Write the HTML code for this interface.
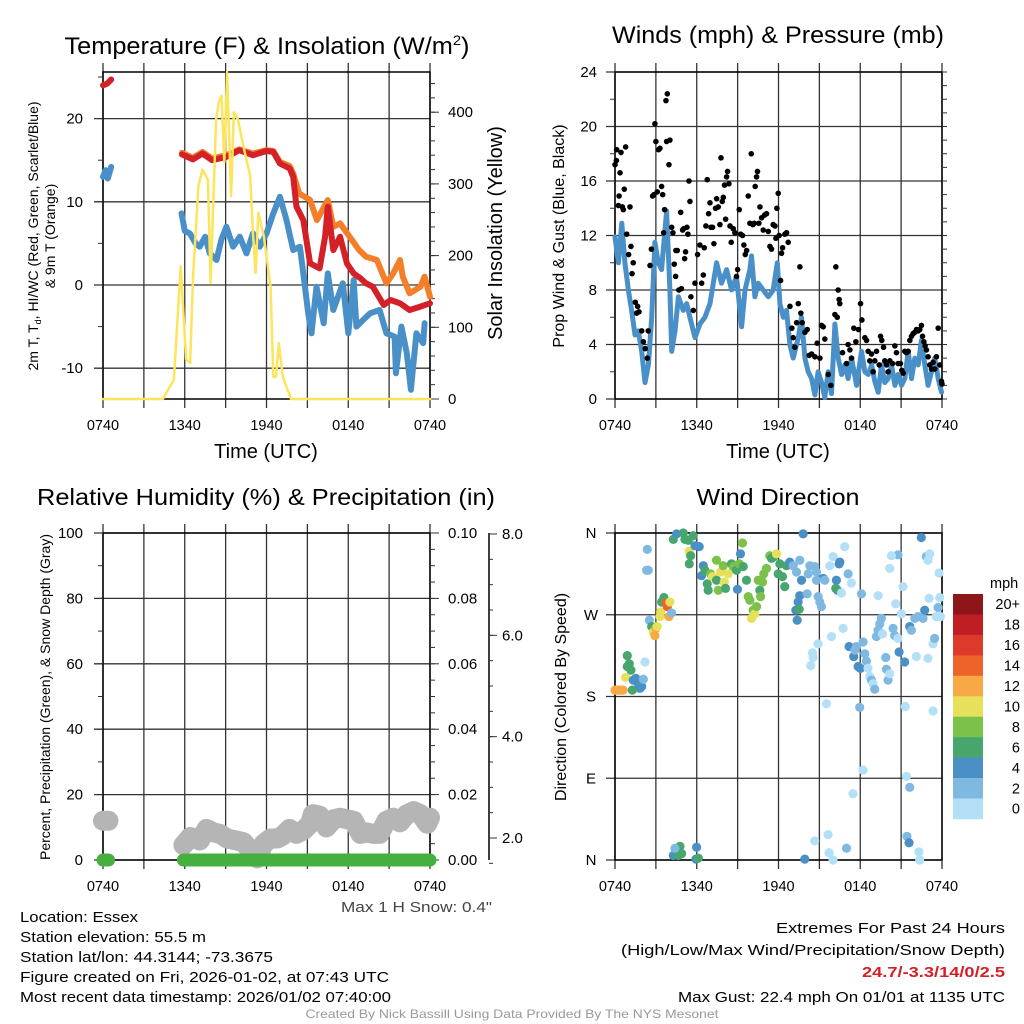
<!DOCTYPE html>
<html><head><meta charset="utf-8"><style>
html,body{margin:0;padding:0;background:#fff;}
svg{display:block;font-family:"Liberation Sans",sans-serif;}
</style></head><body>
<svg id="fig" width="1024" height="1024" viewBox="0 0 1024 1024" xmlns="http://www.w3.org/2000/svg">
<rect width="1024" height="1024" fill="#fff"/>
<g id="layer"></g>
<text x="267" y="54" font-size="24" text-anchor="middle" textLength="405" lengthAdjust="spacingAndGlyphs">Temperature (F) &amp; Insolation (W/m<tspan dy="-9" font-size="14">2</tspan><tspan dy="9">)</tspan></text>
<text x="778" y="43" font-size="24" text-anchor="middle" textLength="332" lengthAdjust="spacingAndGlyphs">Winds (mph) &amp; Pressure (mb)</text>
<text x="266" y="505" font-size="23" text-anchor="middle" textLength="458" lengthAdjust="spacingAndGlyphs">Relative Humidity (%) &amp; Precipitation (in)</text>
<text x="778" y="505" font-size="23" text-anchor="middle" textLength="163" lengthAdjust="spacingAndGlyphs">Wind Direction</text>
<text x="266" y="458" font-size="20" text-anchor="middle">Time (UTC)</text>
<text x="778" y="458" font-size="20" text-anchor="middle">Time (UTC)</text>
<text transform="translate(38,236) rotate(-90)" font-size="14" text-anchor="middle">2m T, T<tspan font-size="9" dy="3">d</tspan><tspan dy="-3">, HI/WC (Red, Green, Scarlet/Blue)</tspan></text>
<text transform="translate(55,236) rotate(-90)" font-size="14" text-anchor="middle">&amp; 9m T (Orange)</text>
<text transform="translate(502,233) rotate(-90)" font-size="20" text-anchor="middle">Solar Insolation (Yellow)</text>
<text transform="translate(564,236) rotate(-90)" font-size="16" text-anchor="middle">Prop Wind &amp; Gust (Blue, Black)</text>
<text transform="translate(50,697) rotate(-90)" font-size="14" text-anchor="middle">Percent, Precipitation (Green), &amp; Snow Depth (Gray)</text>
<text transform="translate(566,697) rotate(-90)" font-size="16" text-anchor="middle">Direction (Colored By Speed)</text>
<text x="492" y="912" font-size="15" fill="#444" text-anchor="end" textLength="151" lengthAdjust="spacingAndGlyphs">Max 1 H Snow: 0.4"</text>
<g font-size="15">
<text x="20" y="922" textLength="118" lengthAdjust="spacingAndGlyphs">Location: Essex</text>
<text x="20" y="942" textLength="186" lengthAdjust="spacingAndGlyphs">Station elevation: 55.5 m</text>
<text x="20" y="962" textLength="253" lengthAdjust="spacingAndGlyphs">Station lat/lon: 44.3144; -73.3675</text>
<text x="20" y="982" textLength="369" lengthAdjust="spacingAndGlyphs">Figure created on Fri, 2026-01-02, at 07:43 UTC</text>
<text x="20" y="1002" textLength="371" lengthAdjust="spacingAndGlyphs">Most recent data timestamp: 2026/01/02 07:40:00</text>
</g>
<g font-size="15" text-anchor="end">
<text x="1005" y="933" textLength="229" lengthAdjust="spacingAndGlyphs">Extremes For Past 24 Hours</text>
<text x="1005" y="955" textLength="384" lengthAdjust="spacingAndGlyphs">(High/Low/Max Wind/Precipitation/Snow Depth)</text>
<text x="1005" y="977" fill="#d42027" font-weight="bold" textLength="143" lengthAdjust="spacingAndGlyphs">24.7/-3.3/14/0/2.5</text>
<text x="1005" y="1002" textLength="327" lengthAdjust="spacingAndGlyphs">Max Gust: 22.4 mph On 01/01 at 1135 UTC</text>
</g>
<text x="512" y="1018" font-size="12" fill="#999" text-anchor="middle" textLength="413" lengthAdjust="spacingAndGlyphs">Created By Nick Bassill Using Data Provided By The NYS Mesonet</text>
</svg>
<script>
// ---------- data ----------
const timeTickHours = [0, 6, 12, 18, 24];
const timeTickLabels = ['0740', '1340', '1940', '0140', '0740'];
const tempTicks = [-10, 0, 10, 20];
const solarTicks = [0, 100, 200, 300, 400];
const windTicks = [0, 4, 8, 12, 16, 20, 24];
const pctTicks = [0, 20, 40, 60, 80, 100];
const precipTicks = [0, 0.02, 0.04, 0.06, 0.08, 0.10];
const snowTicks = [2, 4, 6, 8];
const dirTicks = [0, 90, 180, 270, 360];
const dirTickLabels = ['N', 'E', 'S', 'W', 'N'];
const speedBins = ['20+', '18', '16', '14', '12', '10', '8', '6', '4', '2', '0'];
const speedColors = ['#8e1519', '#bf1e24', '#de3a2a', '#ee6329', '#f6a945', '#e6e05a', '#7cc24a', '#47a56e', '#4a8fc6', '#7fb9e2', '#b3e0f7'];

const redT = [0,24.0, 0.3,24.2, 0.6,24.7, null,null, 5.8,15.7, 6.6,15.1, 7.3,15.8, 8.0,15.0, 9.06,15.4, 10.0,16.2, 11.0,15.6, 12.0,16.1, 12.5,16.0, 12.98,14.6, 13.7,14.0, 13.96,13.0, 14.2,9.4, 14.7,7.8, 15.2,2.6, 15.9,2.0, 16.3,5.8, 16.5,9.4, 16.9,4.2, 17.4,5.8, 17.9,2.6, 18.4,1.4, 18.9,0.8, 19.3,0.2, 19.8,-0.2, 20.6,-2.4, 21.1,-1.8, 21.8,-2.2, 22.5,-3.0, 23.3,-2.6, 24,-2.2];
const orangeT = [5.8,15.9, 6.6,15.3, 7.3,16, 8,15.2, 9.06,15.6, 10,16.3, 11,15.8, 12,16.2, 12.5,16.1, 12.98,14.8, 13.7,14.3, 13.96,13.4, 14.4,11, 15.2,10.2, 15.7,7.8, 16.5,10.2, 16.9,7, 17.4,7.4, 18.1,5.8, 18.8,4.2, 19.3,3.4, 20.1,3, 20.8,0.2, 21.3,1.4, 21.8,3, 22.0,1, 22.5,-1, 23.3,-0.2, 23.6,1, 24,-1.4];
const blueTd = [0,13, 0.2,13.8, 0.35,12.8, 0.6,14.2, null,null, 5.76,8.6, 6.0,6.5, 6.37,6.2, 6.8,5.0, 7.1,4.6, 7.5,5.8, 7.84,3.8, 8.33,3, 8.7,5.5, 9.06,7, 9.55,4.6, 10.04,5.8, 10.53,3.8, 11.0,6.2, 11.5,4.6, 12.0,6.2, 12.5,8.6, 12.98,10.6, 13.47,7.8, 13.96,4.2, 14.45,4.6, 14.7,1.4, 15.06,-3.4, 15.3,-5.8, 15.67,-0.2, 16.2,-4.6, 16.5,1.4, 16.9,-3, 17.6,0.2, 18.0,-5.8, 18.4,0.6, 18.6,-5, 19.1,-4.2, 19.6,-3.4, 20.3,-3, 20.8,-5.8, 21.4,-6.2, 21.5,-10.6, 21.9,-5, 22.3,-8.2, 22.6,-12.6, 23.0,-5.8, 23.5,-7, 23.6,-4.6];
const solar = [0,0, 4.4,0, 5.2,27, 5.7,185, 6.1,55, 6.4,50, 6.6,167, 7.0,297, 7.3,320, 7.7,306, 7.9,162, 8.3,390, 8.5,414, 8.7,423, 8.9,330, 9.1,456, 9.4,283, 9.6,400, 9.9,390, 10.3,353, 10.8,311, 11.0,232, 11.2,176, 11.4,260, 11.8,227, 12.3,157, 12.5,31, 12.7,31, 12.9,78, 13.2,31, 13.8,0, 24,0];
const windT = [0,11.9, 0.25,10, 0.5,12.9, 0.73,10, 0.98,8, 1.22,6.5, 1.47,4.7, 1.71,5, 1.96,3.5, 2.2,1.2, 2.45,2.5, 2.69,6, 2.93,11.5, 3.18,10, 3.42,9.5, 3.79,13.8, 4.03,8, 4.16,3.5, 4.4,5, 4.65,7.5, 5.01,6.5, 5.26,7, 5.5,6, 5.87,4.5, 6.23,5.5, 6.6,6, 6.97,7, 7.46,10, 7.82,8.5, 8.19,9.5, 8.56,8, 8.92,9, 9.29,5.3, 9.54,8, 9.9,9.5, 10.02,10.5, 10.27,7.5, 10.51,8.5, 10.88,8, 11.25,7.5, 11.61,8, 11.91,10, 12.1,7, 12.35,6, 12.59,6.5, 12.84,4, 13.08,3, 13.45,4.5, 13.69,6, 13.94,3, 14.18,2, 14.43,1.5, 14.67,0.3, 14.91,2, 15.16,1.2, 15.4,0.1, 15.65,2, 15.89,0.4, 16.14,5.5, 16.38,3, 16.63,1.8, 16.87,2.5, 17.11,1.5, 17.36,3, 17.73,1, 18.09,3.5, 18.34,2, 18.58,1.8, 18.83,2.5, 19.07,1.3, 19.32,0.5, 19.56,2.5, 19.8,1.2, 20.05,1.5, 20.29,2.5, 20.54,1, 20.78,1.8, 21.03,1, 21.27,1.5, 21.52,3.5, 21.76,1.5, 22.0,3, 22.25,2.5, 22.49,4.3, 22.74,2.5, 22.98,1, 23.23,2, 23.47,3, 23.72,1.5, 23.96,0.5];
const gust = [0.0,17.2, 0.1,17.5, 0.12,18.3, 0.3,14.9, 0.25,14.2, 0.37,16.6, 0.44,18.1, 0.54,14.1, 0.61,13.9, 0.78,18.5, 0.68,15.4, 0.86,12.1, 1.0,10.6, 1.1,14.1, 1.17,11.2, 1.25,9.2, 1.34,10, 1.49,7.1, 1.59,6.3, 1.66,6.8, 1.76,6.4, 1.96,5, 2.08,4.2, 2.22,3.7, 2.37,3, 2.44,5, 2.57,9.8, 2.67,11, 2.76,14.9, 2.86,15, 2.93,20.2, 3.0,18.9, 3.1,15.2, 3.2,18.3, 3.3,18.4, 3.42,15.6, 3.5,15, 3.57,12.2, 3.64,13.9, 3.74,21.9, 3.84,22.4, 3.79,18.9, 3.96,17.2, 4.03,19, 4.16,12.6, 4.25,12.2, 4.35,9.9, 4.45,9, 4.47,10.9, 4.57,10.9, 4.69,8, 4.82,13.7, 4.87,8.1, 4.96,12.4, 5.04,12.5, 5.11,10.3, 5.18,10.8, 5.28,12.6, 5.35,12.1, 5.43,16, 5.5,14.5, 5.57,7.5, 5.75,6.5, 5.87,8.5, 6.06,10.6, 6.23,11.3, 6.36,8.5, 6.48,9.1, 6.55,11.1, 6.67,12.7, 6.77,16.1, 6.87,13.6, 6.97,14.4, 7.04,12.6, 7.16,12.6, 7.26,11.4, 7.38,14, 7.46,14.7, 7.58,14.1, 7.7,12.8, 7.78,17.7, 7.87,14.5, 7.95,14.8, 8.04,15.7, 8.12,13.2, 8.19,16.3, 8.26,16.7, 8.36,15.8, 8.44,12.7, 8.53,11.5, 8.68,12.5, 8.8,12.2, 8.92,9, 9.0,9.5, 9.12,13.9, 9.22,12.1, 9.36,12, 9.46,11.3, 9.56,10.6, 9.66,10.9, 9.78,14.9, 9.9,12.9, 10.0,18, 10.12,12.8, 10.22,12.9, 10.29,15.6, 10.39,16.3, 10.46,16.7, 10.56,12.9, 10.64,14.1, 10.76,13.3, 10.88,12.4, 10.98,13.5, 11.12,13.6, 11.25,12.3, 11.37,11.2, 11.49,11, 11.61,12.8, 11.74,12.7, 11.81,11.8, 11.88,14, 11.98,15.1, 12.05,12, 12.15,8.7, 12.22,10.7, 12.3,11.1, 12.47,12.1, 12.59,12.2, 12.71,11.5, 12.84,6.8, 12.98,5.2, 13.08,4.5, 13.2,3.8, 13.33,5.6, 13.45,7, 13.57,9.7, 13.64,6.3, 13.74,5.6, 13.94,4.9, 14.11,5.1, 14.25,3.2, 14.43,3.3, 14.67,3.1, 14.84,4.1, 15.04,3, 15.16,5.4, 15.28,5.3, 15.4,4.4, 15.65,1.8, 15.84,1, 16.14,6.2, 16.21,9.7, 16.31,6, 16.38,8, 16.45,7.3, 16.5,7, 16.7,3.4, 16.99,2.6, 17.11,4, 17.24,3.6, 17.36,3, 17.53,5.2, 17.68,4.2, 17.87,5.1, 18.02,7, 18.12,5.8, 18.34,4.5, 18.46,4.3, 18.58,3.5, 18.7,2.8, 18.83,3.3, 18.95,2, 19.07,2.8, 19.19,3.5, 19.39,2.5, 19.49,4.6, 19.58,4.3, 19.71,3.8, 19.8,2.8, 19.93,2.5, 20.05,2, 20.17,2.8, 20.37,2.6, 20.54,3.9, 20.66,3.4, 20.78,2.6, 20.95,2.6, 21.05,2.1, 21.15,1.9, 21.27,3.5, 21.39,3.4, 21.52,3.5, 21.64,4.3, 21.76,4.6, 21.88,4.8, 22.0,4.9, 22.13,5.1, 22.25,5, 22.37,5.1, 22.49,5.4, 22.57,4.6, 22.67,4.2, 22.76,3.9, 22.86,3.6, 22.98,3.1, 23.1,2.5, 23.23,2.2, 23.35,2.7, 23.47,2.2, 23.59,3.1, 23.72,5.2, 23.84,2.5, 23.96,1.3, 24.0,1.1];
const snowDepth = [0,2.34, 0.4,2.34, null,null, 5.9,1.86, 6.4,2.02, 7.1,1.95, 7.6,2.18, 8.1,2.11, 8.6,2.08, 9.1,1.99, 9.8,1.95, 10.3,1.92, 10.8,1.76, 11.3,1.6, 11.8,1.89, 12.3,1.99, 12.8,1.99, 13.2,2.05, 13.7,2.18, 14.2,2.08, 14.7,2.15, 15.2,2.28, 15.4,2.47, 15.9,2.44, 16.4,2.21, 16.9,2.37, 17.4,2.4, 17.9,2.37, 18.4,2.34, 18.9,2.08, 19.4,2.11, 19.8,2.08, 20.3,2.08, 20.8,2.34, 21.3,2.4, 21.8,2.31, 22.3,2.47, 22.8,2.53, 23.3,2.47, 23.8,2.28, 24,2.4];
const precip = [0,0, 0.4,0, null,null, 5.9,0, 24,0];
const dirT = [0,0.1,0.2,0.3,0.4,0.5,0.6, 0.78,0.9,0.9,1.05,1.17,1.34,1.52,1.71,1.83,1.96,1.27,2.08,2.2,2.52,2.69,2.81,2.93,3.0,3.1,3.3,3.35,3.42,3.59,3.74,3.84,3.96,4.03,4.15,2.37,2.32,2.44,4.28,4.52,5.01,5.13,5.38,5.74,5.45,5.55,5.45,5.87,6.18,6.35,6.48,6.6,6.77,6.84,7.01,7.16,7.45,7.45,7.58,7.75,7.94,8.02,8.11,8.31,8.55,8.68,8.92,8.99,9.12,9.21,9.36,9.41,9.65,9.78,9.9,10.02,10.14,10.26,10.39,10.51,10.63,10.68,10.83,10.92,11.12,11.36,11.49,11.66,11.85,11.98,12.1,12.29,12.46,12.59,12.83,13.08,13.32,13.56,13.69,13.56,13.44,13.27,13.52,13.37,13.81,14.1,14.18,14.3,14.66,14.79,14.91,15.03,15.15,15.28,15.4,14.79,15.76,16.01,16.25,16.33,16.45,16.5,16.2,16.62,16.86,17.11,17.35,16.74,15.89,14.91,14.49,14.54,14.37,15.52,17.18,17.52,17.6,17.72,17.84,18.01,18.21,18.33,18.45,18.57,18.7,18.82,18.94,19.06,19.19,19.31,19.43,19.55,19.63,19.87,19.92,20.04,20.16,20.41,20.53,20.77,20.85,21.02,21.14,21.26,21.63,21.75,22.0,22.12,22.24,22.61,22.73,22.85,22.97,23.05,23.1,23.34,23.46,23.58,23.71,23.78,23.83,23.88,22.48,20.16,20.77,20.29,18.09,19.31,20.6,22.97,23.34,21.31,17.96,18.21,21.39,21.63,17.47,15.64,14.66,15.71,16.0,16.99,13.93,21.43,21.58,22.31,22.36,4.28,4.52,4.77,4.89,4.64,4.4,5.99,5.94,6.11];
const dirDeg = [187,187,187,187,187,187,187, 201,225,213,216,209,198,200,194,189,191,187,199,218,264,257,251,247,255,257,268,273,284,289,283,279,268,284,272,342,319,319,353,359,360,353,352,357,340,335,326,346,345,313,324,319,304,297,315,312,330,308,297,317,324,306,299,315,326,323,319,298,326,337,349,323,308,290,286,266,275,271,279,308,297,290,306,315,321,335,332,334,337,315,326,312,301,324,328,324,317,330,308,291,284,275,276,264,359,293,315,324,323,317,290,284,279,310,308,308,324,334,308,297,326,328,299,294,345,315,305,255,246,238,228,223,214,172,235,224,231,235,213,211,240,227,219,211,202,198,194,188,246,253,260,266,249,223,210,198,205,255,247,244,229,271,301,218,257,253,266,224,268,266,275,334,330,288,337,238,244,268,278,316,289,268,355,321,336,335,293,291,282,222,164,169,168,99,92,80,73,28,21,8,0,13,1,26,19,9,0,5,9,15,7,5,13,14,1,2];
const dirSpeed = [13,13,13,13,13,13,13, 11,7,7,7,7,5,5,5,5,5,7,3,1.5,3,7,11,13,13,11,11,11,7,7,15,15,13,11,3,3,3,3,7,5,7,7,7,7,11,7,7,5,5,5,5,7,7,7,9,11,9,7,9,11,9,11,7,11,7,9,7,5,9,5,9,7,7,9,9,11,9,11,9,9,7,9,9,9,9,9,7,7,11,7,7,7,7,7,5,3,3,3,5,5,5,5,7,5,5,3,3,3,3,3,3,3,3,5,3,3,1,1,5,5,5,5,7,1,1,3,1,1,1,1,1,1,1,1,5,5,3,3,5,5,3,3,3,1,1,3,1,3,3,3,3,3,1,3,3,3,1,3,3,1,5,1,1,5,5,3,3,1,3,3,5,3,1,1,1,1,3,1,3,1,1,1,5,1,3,1,3,1,1,1,1,1,3,1,1,3,1,1,1,1,1,3,5,3,5,1,1,5,5,7,7,7,3,5,5,7];

// ---------- helpers ----------
const NS = 'http://www.w3.org/2000/svg';
const layer = document.getElementById('layer');
function mk(tag, attrs, parent) {
  const e = document.createElementNS(NS, tag);
  for (const k in attrs) e.setAttribute(k, attrs[k]);
  (parent || layer).appendChild(e);
  return e;
}
function lin(d0, d1, r0, r1) { return v => r0 + (v - d0) / (d1 - d0) * (r1 - r0); }

const P1 = {x0:103, x1:430, y0:72, y1:399};
const P2 = {x0:615, x1:942, y0:72, y1:399};
const P3 = {x0:103, x1:430, y0:533, y1:860};
const P4 = {x0:615, x1:942, y0:533, y1:860};
const x1s = lin(0, 24, P1.x0, P1.x1), x2s = lin(0, 24, P2.x0, P2.x1);
const x3s = lin(0, 24, P3.x0, P3.x1), x4s = lin(0, 24, P4.x0, P4.x1);
const yTemp = lin(0, 20, 285, 118.6);
const ySolar = lin(0, 400, 399, 112.2);
const yWind = lin(0, 24, 399, 72);
const yPct = lin(0, 100, 860, 533);
const yPrecip = lin(0, 0.10, 860, 533);
const ySnow = lin(2, 8, 838, 534);
const yDir = lin(0, 360, 860, 533);

function frame(P, name, gridYVals, yScale, xScale) {
  const g = mk('g', {});
  
  
  for (let h = 0; h <= 24; h += 3) {
    const x = xScale(h);
    const gl = mk('line', {x1:x, x2:x, y1:P.y0 - 9, y2:P.y1 + 9, stroke:'#333', 'stroke-width':1.3}, g);
    
    
  }
  gridYVals.forEach(v => {
    const y = yScale(v);
    const gl = mk('line', {x1:P.x0 - 9, x2:P.x1, y1:y, y2:y, stroke:'#333', 'stroke-width':1.3}, g);
    
    
  });
  const fr = mk('rect', {x:P.x0, y:P.y0, width:P.x1 - P.x0, height:P.y1 - P.y0, fill:'none', stroke:'#000', 'stroke-width':1.5}, g);
  
  
  timeTickHours.forEach((h, i) => {
    const t = mk('text', {x:xScale(h), y:P.y1 + 31, 'font-size':14.5, 'text-anchor':'middle'}, g);
    t.textContent = timeTickLabels[i];
    
    
  });
  return g;
}
function ticks(g, x, vals, yScale, len, name) {
  vals.forEach(v => {
    const y = yScale(v);
    const t = mk('line', {x1:x, x2:x + len, y1:y, y2:y, stroke:'#333', 'stroke-width':1}, g);
    
    
  });
}
function labels(g, x, vals, yScale, anchor, fmt, name, size) {
  vals.forEach(v => {
    const t = mk('text', {x:x, y:yScale(v) + 5, 'font-size':size || 15, 'text-anchor':anchor}, g);
    t.textContent = fmt(v);
    
    
  });
}
function range(a, b, s) { const r = []; for (let v = a; v <= b + 1e-9; v += s) r.push(+v.toFixed(4)); return r; }
function line(arr, xs, ys, color, w, name, parent) {
  let segs = [], cur = [];
  for (let i = 0; i < arr.length; i += 2) {
    if (arr[i] === null) { if (cur.length) segs.push(cur); cur = []; continue; }
    cur.push(xs(arr[i]).toFixed(1) + ',' + ys(arr[i + 1]).toFixed(1));
  }
  if (cur.length) segs.push(cur);
  segs.forEach(s => {
    if (s.length === 1) s.push(s[0]);
    const p = mk('polyline', {points:s.join(' '), fill:'none', stroke:color, 'stroke-width':w, 'stroke-linejoin':'round', 'stroke-linecap':'round'}, parent);
    
    
  });
}

// ---------- panel 1 ----------
const g1 = frame(P1, 'temperature', tempTicks, yTemp, x1s);
ticks(g1, P1.x0, range(-10, 25, 5), yTemp, -5, 'temp-minor-tick');
labels(g1, 83, tempTicks, yTemp, 'end', v => String(v), 'temp-y-tick-label');
ticks(g1, P1.x1, solarTicks, ySolar, 9, 'solar-major-tick');
ticks(g1, P1.x1, range(0, 440, 20), ySolar, 5, 'solar-minor-tick');
labels(g1, 448, solarTicks, ySolar, 'start', v => String(v), 'solar-y-tick-label');
const s1 = mk('g', {});


line(blueTd, x1s, yTemp, '#4a90c8', 6, 'dewpoint-line', s1);
line(orangeT, x1s, yTemp, '#f47f2a', 6, 'temp-9m-line', s1);
line(redT, x1s, yTemp, '#d42027', 6, 'temp-2m-line', s1);
line(solar, x1s, ySolar, '#fce55a', 2.5, 'solar-line', s1);

// ---------- panel 2 ----------
const g2 = frame(P2, 'wind', windTicks, yWind, x2s);
ticks(g2, P2.x0, range(0, 24, 2), yWind, -5, 'wind-minor-tick');
ticks(g2, P2.x1, range(0, 24, 1), yWind, 5, 'wind-right-tick');
labels(g2, 597, windTicks, yWind, 'end', v => String(v), 'wind-y-tick-label');
const s2 = mk('g', {});


line(windT, x2s, yWind, '#4a90c8', 5, 'sustained-wind-line', s2);
for (let i = 0; i < gust.length; i += 2) {
  const c = mk('circle', {cx:x2s(gust[i]), cy:yWind(gust[i + 1]), r:2.8, fill:'#000'}, s2);
  
  
}

// ---------- panel 3 ----------
const g3 = frame(P3, 'humidity', pctTicks, yPct, x3s);
ticks(g3, P3.x0, range(0, 100, 10), yPct, -5, 'pct-minor-tick');
labels(g3, 83, pctTicks, yPct, 'end', v => String(v), 'pct-y-tick-label');
ticks(g3, P3.x1, precipTicks, yPrecip, 9, 'precip-major-tick');
ticks(g3, P3.x1, range(0, 0.1, 0.005), yPrecip, 5, 'precip-minor-tick');
labels(g3, 448, precipTicks, yPrecip, 'start', v => v.toFixed(2), 'precip-y-tick-label');
const sa = mk('line', {x1:489, x2:489, y1:533, y2:860, stroke:'#000', 'stroke-width':1.5}, g3);


ticks(g3, 489, snowTicks, ySnow, 8, 'snow-major-tick');
ticks(g3, 489, range(1.5, 8, 0.5), ySnow, 4, 'snow-minor-tick');
labels(g3, 502, snowTicks, ySnow, 'start', v => v.toFixed(1), 'snow-y-tick-label');
const s3 = mk('g', {});


line(snowDepth, x3s, ySnow, '#b5b5b5', 20, 'snow-depth-line', s3);
line(precip, x3s, yPrecip, '#46b03f', 13, 'precipitation-line', s3);

// ---------- panel 4 ----------
const g4 = frame(P4, 'direction', dirTicks, yDir, x4s);
dirTicks.forEach((v, i) => {
  const t = mk('text', {x:591, y:yDir(v) + 5, 'font-size':15, 'text-anchor':'middle'}, g4);
  t.textContent = dirTickLabels[i];
  
  
});
const s4 = mk('g', {});


function speedColor(s) { const b = Math.min(10, Math.floor(s / 2)); return speedColors[10 - b]; }
for (let i = 0; i < dirT.length; i++) {
  const c = mk('circle', {cx:x4s(dirT[i]), cy:yDir(dirDeg[i]), r:4.6, fill:speedColor(dirSpeed[i])}, s4);
  
  
}
// colorbar
const cb = mk('g', {});


const cbTop = 594, cbH = 20.45;
speedBins.forEach((lab, i) => {
  const r = mk('rect', {x:953, y:cbTop + i * cbH, width:30, height:cbH + 0.3, fill:speedColors[i]}, cb);
  
  
  const t = mk('text', {x:1020, y:cbTop + i * cbH + cbH / 2 + 5, 'font-size':14.5, 'text-anchor':'end'}, cb);
  t.textContent = lab;
  
  
});
const mph = mk('text', {x:990, y:588, 'font-size':14.5}, cb);
mph.textContent = 'mph';


</script>
</body></html>
